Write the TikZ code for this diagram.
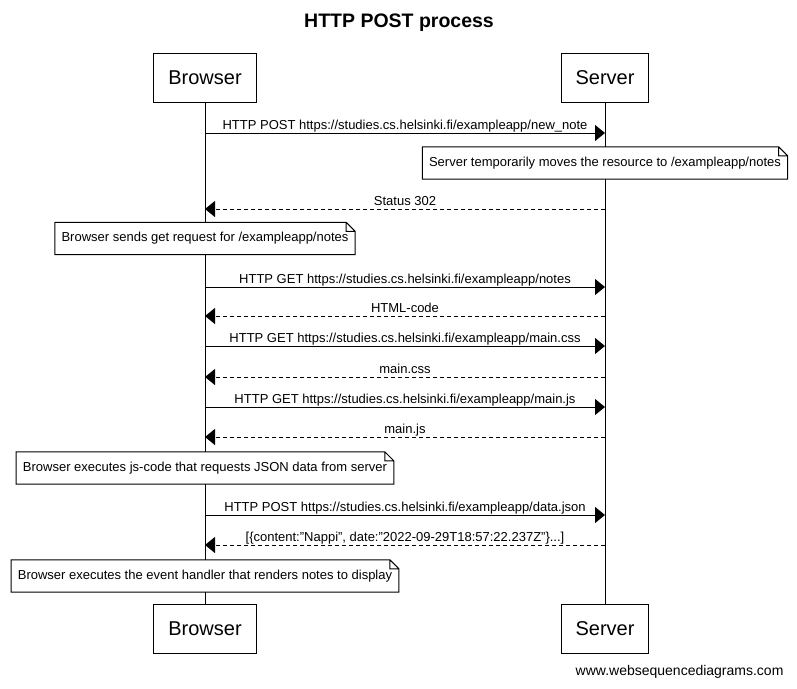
\documentclass[tikz,border=0pt]{standalone}
\usepackage{fontspec}
\setmainfont{Liberation Sans}
\usepackage{tikz}
\usetikzlibrary{arrows.meta,positioning}
\newcommand{\msgfont}{\fontsize{13}{15}\selectfont}
\newcommand{\actorfont}{\fontsize{20}{24}\selectfont}

\begin{document}
\begin{tikzpicture}[
  x=1pt, y=-1pt,
  actor/.style={draw, line width=1pt, minimum height=49pt, inner xsep=14.5pt, font=\actorfont},
  lifeline/.style={line width=1pt},
  req/.style={line width=1pt, -{Triangle[length=10pt,width=16pt]}},
  resp/.style={req, dash pattern=on 4pt off 3pt},
  lbl/.style={midway, above, inner sep=0.5pt, text height=9.5pt, text depth=3pt, font=\msgfont},
  note/.style={fill=white, inner xsep=6.5pt, minimum height=32pt, font=\msgfont}
]
  \useasboundingbox (0,0) rectangle (797,688);

  % Title
  \node[font=\fontsize{19.5}{23}\selectfont\bfseries] (title) at (399,23) {HTTP POST process};

  % Participants
  \node[actor] (browser) at (205,78) {Browser};
  \node[actor] (server) at (605,78) {Server};
  \node[actor] (browserB) at (205,628.5) {Browser};
  \node[actor] (serverB) at (605,628.5) {Server};

  % Lifelines
  \draw[lifeline] (browser) -- (browserB);
  \draw[lifeline] (server) -- (serverB);

  % POST new note
  \draw[req] (browser.south |- 0,133) -- node[lbl]{HTTP POST https://studies.cs.helsinki.fi/exampleapp/new\_note} (server.south |- 0,133);
  \node[note] (redirect) at (605,163) {Server temporarily moves the resource to /exampleapp/notes};
  \draw[resp] (server.south |- 0,209) -- node[lbl]{Status 302} (browser.south |- 0,209);
  \node[note] (reload) at (205,238.5) {Browser sends get request for /exampleapp/notes};

  % Page reload
  \draw[req] (browser.south |- 0,287) -- node[lbl]{HTTP GET https://studies.cs.helsinki.fi/exampleapp/notes} (server.south |- 0,287);
  \draw[resp] (server.south |- 0,316) -- node[lbl]{HTML-code} (browser.south |- 0,316);
  \draw[req] (browser.south |- 0,346) -- node[lbl]{HTTP GET https://studies.cs.helsinki.fi/exampleapp/main.css} (server.south |- 0,346);
  \draw[resp] (server.south |- 0,377) -- node[lbl]{main.css} (browser.south |- 0,377);
  \draw[req] (browser.south |- 0,407) -- node[lbl]{HTTP GET https://studies.cs.helsinki.fi/exampleapp/main.js} (server.south |- 0,407);
  \draw[resp] (server.south |- 0,437) -- node[lbl]{main.js} (browser.south |- 0,437);
  \node[note] (runjs) at (205,468) {Browser executes js-code that requests JSON data from server};

  % Data
  \draw[req] (browser.south |- 0,515) -- node[lbl]{HTTP POST https://studies.cs.helsinki.fi/exampleapp/data.json} (server.south |- 0,515);
  \draw[resp] (server.south |- 0,545) -- node[lbl]{[\{content:"Nappi", date:"2022-09-29T18:57:22.237Z"\}...]} (browser.south |- 0,545);
  \node[note] (render) at (205,576) {Browser executes the event handler that renders notes to display};

  % Note outlines with folded corner
  \foreach \n in {redirect,reload,runjs,render}
    \draw[line width=1pt] (\n.north west) -- ([xshift=-9pt]\n.north east)
      -- ([yshift=-9pt]\n.north east) -- (\n.south east) -- (\n.south west) -- cycle
      ([xshift=-9pt]\n.north east) -- ([xshift=-9pt,yshift=-9pt]\n.north east)
      -- ([yshift=-9pt]\n.north east);

  % Footer
  \node[font=\fontsize{14}{17}\selectfont, anchor=east] (footer) at (787,672) {www.websequencediagrams.com};
\end{tikzpicture}
\end{document}
